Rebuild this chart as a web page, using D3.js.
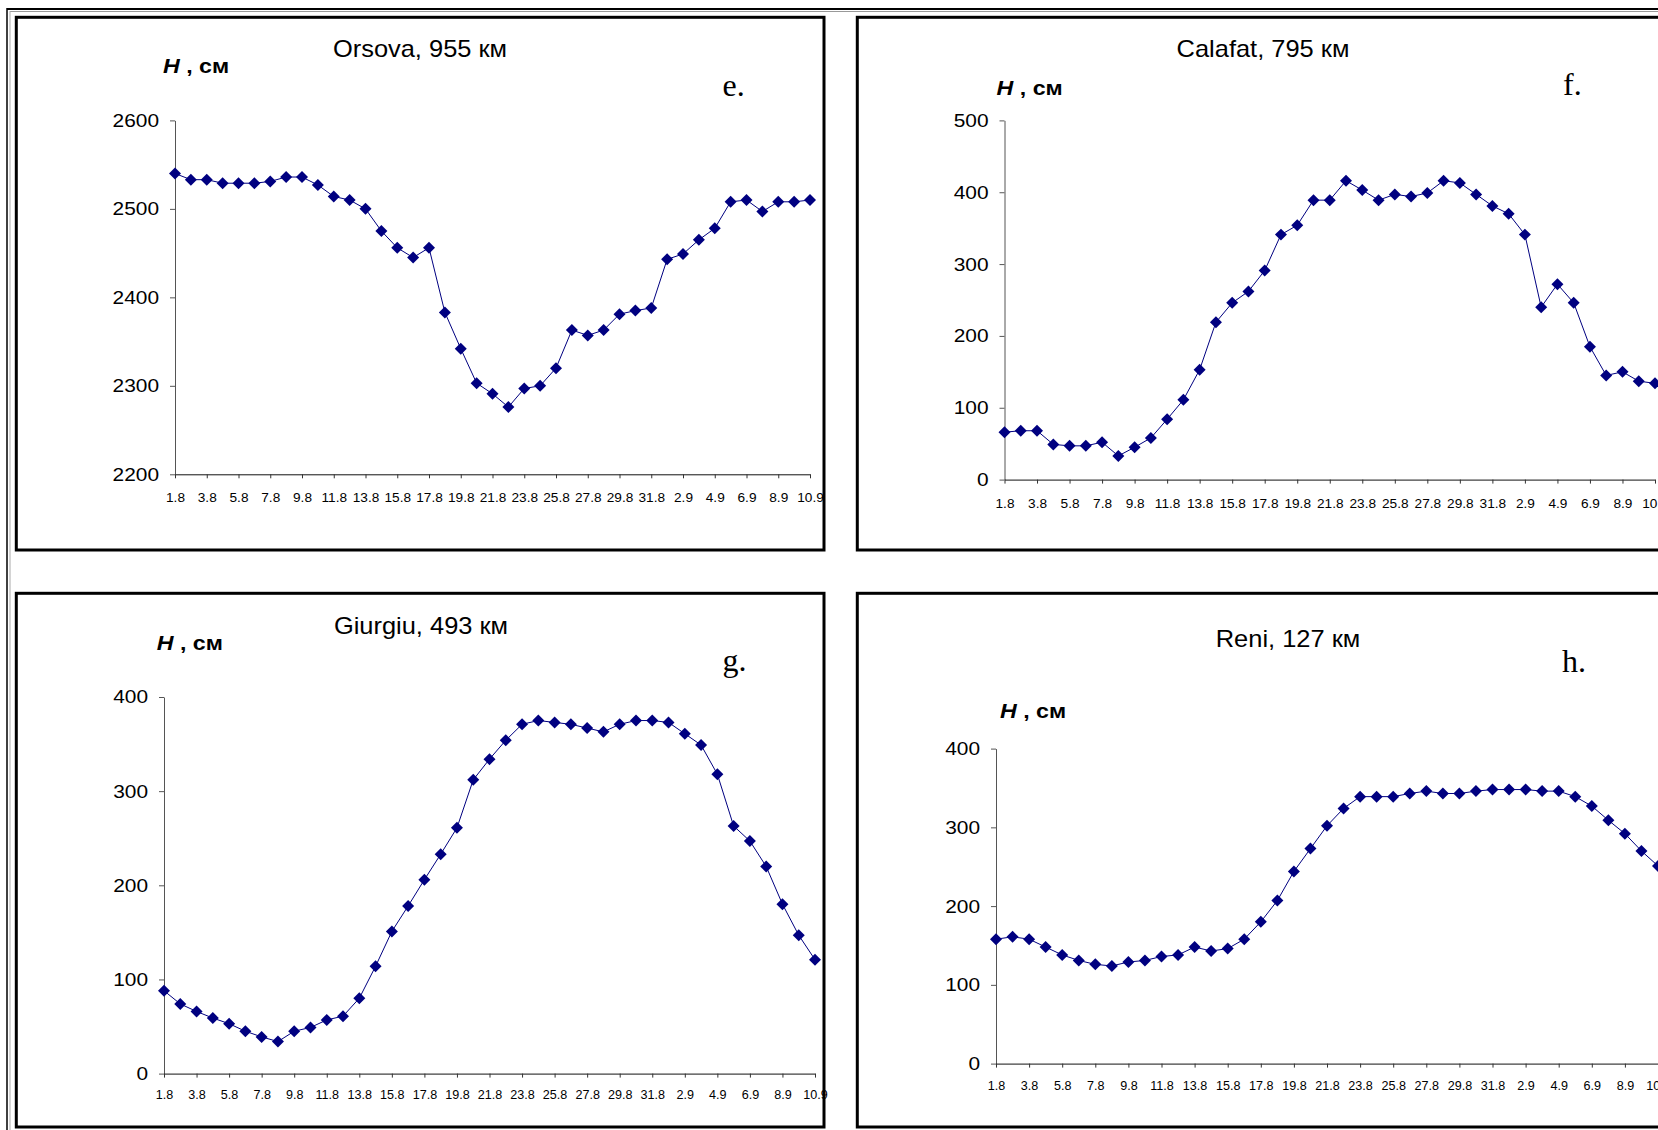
<!DOCTYPE html>
<html>
<head>
<meta charset="utf-8">
<script src="https://d3js.org/d3.v7.min.js"></script>
<style>
body { margin: 0; background: #fff; }
svg { display: block; background: #fff; }
text { font-family: "Liberation Sans", Arial, sans-serif; fill: #000; }
</style>
</head>
<body>
<svg width="1658" height="1130"></svg>
<script>
var dates = ['1.8', '2.8', '3.8', '4.8', '5.8', '6.8', '7.8', '8.8', '9.8', '10.8',
    '11.8', '12.8', '13.8', '14.8', '15.8', '16.8', '17.8', '18.8', '19.8', '20.8',
    '21.8', '22.8', '23.8', '24.8', '25.8', '26.8', '27.8', '28.8', '29.8', '30.8',
    '31.8', '1.9', '2.9', '3.9', '4.9', '5.9', '6.9', '7.9', '8.9', '9.9', '10.9'];

var orsova = [2540, 2533, 2533, 2529, 2529, 2529, 2531, 2536, 2536, 2527,
    2514, 2510, 2500, 2475, 2456, 2445, 2456, 2383, 2342, 2303,
    2291, 2276, 2297, 2300, 2320, 2363, 2357, 2363, 2381, 2385,
    2388, 2443, 2449, 2465, 2478, 2508, 2510, 2497, 2508, 2508, 2510];
var calafat = [66, 68, 68, 49, 47, 47, 52, 33, 45, 58,
    84, 111, 153, 219, 246, 262, 291, 341, 354, 389,
    389, 416, 403, 389, 397, 394, 399, 416, 413, 397,
    381, 370, 341, 240, 272, 246, 185, 145, 150, 137, 134];
var giurgiu = [88, 74, 66, 59, 53, 45, 39, 34, 45, 49,
    57, 61, 80, 114, 151, 178, 206, 233, 261, 312,
    334, 354, 371, 375, 373, 371, 367, 363, 371, 375,
    375, 373, 361, 349, 318, 263, 247, 220, 180, 147, 121];
var reni = [158, 161, 158, 148, 138, 131, 126, 124, 129, 131,
    136, 138, 148, 143, 146, 158, 180, 207, 244, 273,
    302, 324, 339, 339, 339, 343, 346, 343, 343, 346,
    348, 348, 348, 346, 346, 339, 327, 309, 292, 270, 251];

var orsovaTicks = [2200, 2300, 2400, 2500, 2600],
    calafatTicks = [0, 100, 200, 300, 400, 500],
    giurgiuTicks = [0, 100, 200, 300, 400],
    reniTicks = [0, 100, 200, 300, 400];

var titles = ['Orsova, 955 км', 'Calafat, 795 км', 'Giurgiu, 493 км', 'Reni, 127 км'],
    letters = ['e.', 'f.', 'g.', 'h.'];

var svg = d3.select('svg'),
    blue = '#000080',
    titleStretch = 1.06,
    unitStretch = 1.16,
    tickStretch = 1.13;

// layout of the four boxes, in page pixels
var panels = [
    { values: orsova, ticks: orsovaTicks, box: [16.3, 17.3, 807.7, 532.7],
      xr: [175, 810], yr: [474.3, 120.4], title: [420, 57], unit: [163, 73],
      letter: [722.6, 96], xFont: 13, xGap: 23 },
    { values: calafat, ticks: calafatTicks, box: [857.3, 17.3, 807.7, 532.7],
      xr: [1004.5, 1655], yr: [479.6, 120.4], title: [1263, 57], unit: [996.6, 94.6],
      letter: [1563, 95], xFont: 13, xGap: 23.4 },
    { values: giurgiu, ticks: giurgiuTicks, box: [16.3, 593.3, 807.7, 533.7],
      xr: [164, 815], yr: [1073.6, 697], title: [421, 634], unit: [156.7, 650],
      letter: [722.6, 671], xFont: 12, xGap: 21.5 },
    { values: reni, ticks: reniTicks, box: [857.3, 593.3, 807.7, 533.7],
      xr: [996, 1658], yr: [1063.6, 748.6], title: [1288, 647], unit: [1000, 718],
      letter: [1562, 672], xFont: 12, xGap: 21.8 }
];

frame();
for (var i = 0; i < panels.length; i++) {
    drawPanel(panels[i], titles[i], letters[i]);
}

function frame() {
    svg.append('line').attr('x1', 7).attr('x2', 1658).attr('y1', 9).attr('y2', 9)
        .attr('stroke', '#000').attr('stroke-width', 2);
    svg.append('line').attr('x1', 10).attr('x2', 1658).attr('y1', 11.5).attr('y2', 11.5)
        .attr('stroke', '#999').attr('stroke-width', 1);
    svg.append('line').attr('x1', 7).attr('x2', 7).attr('y1', 8).attr('y2', 1130)
        .attr('stroke', '#000').attr('stroke-width', 1.5);
    svg.append('line').attr('x1', 10).attr('x2', 10).attr('y1', 11).attr('y2', 1130)
        .attr('stroke', '#aaa').attr('stroke-width', 1);
}

function stretched(g, x, y, k) {
    return g.append('text').attr('transform', 'translate(' + x + ',' + y + ') scale(' + k + ',1)');
}

function drawPanel(p, title, letter) {
    var g = svg.append('g');

    g.append('rect')
        .attr('x', p.box[0]).attr('y', p.box[1])
        .attr('width', p.box[2]).attr('height', p.box[3])
        .attr('fill', '#fff').attr('stroke', '#000').attr('stroke-width', 3);

    var x = d3.scalePoint().domain(dates).range(p.xr),
        y = d3.scaleLinear().domain([p.ticks[0], p.ticks[p.ticks.length - 1]]).range(p.yr);

    // y axis
    var ya = g.append('g').attr('transform', 'translate(' + p.xr[0] + ',0)')
        .call(d3.axisLeft(y).tickValues(p.ticks).tickFormat(d3.format('d'))
            .tickSize(5).tickSizeOuter(0).tickPadding(11));
    ya.attr('font-size', 18.5);
    ya.select('.domain').attr('stroke', '#555');
    ya.selectAll('.tick line').attr('stroke', '#555');
    ya.selectAll('.tick text')
        .attr('x', -16 / tickStretch)
        .attr('transform', 'scale(' + tickStretch + ',1)');

    // x axis, a label on every second day
    var pad = p.xGap - 4 - 0.36 * p.xFont;
    var xa = g.append('g').attr('transform', 'translate(0,' + p.yr[0] + ')')
        .call(d3.axisBottom(x)
            .tickValues(dates.filter(function (d, j) { return j % 2 === 0; }))
            .tickSize(4).tickSizeOuter(0).tickPadding(pad));
    xa.attr('font-size', p.xFont);
    xa.select('.domain').attr('stroke', '#111');
    xa.selectAll('.tick line').attr('stroke', '#333');
    xa.selectAll('.tick text').attr('transform', 'scale(1.05,1)');

    // series
    var line = d3.line()
        .x(function (d, j) { return x(dates[j]); })
        .y(function (d) { return y(d); });
    g.append('path').datum(p.values)
        .attr('d', line)
        .attr('fill', 'none')
        .attr('stroke', blue)
        .attr('stroke-width', 1);

    var diamond = d3.symbol().type(d3.symbolSquare).size(72);
    g.selectAll('.mark').data(p.values).enter().append('path')
        .attr('class', 'mark')
        .attr('d', diamond)
        .attr('transform', function (d, j) {
            return 'translate(' + x(dates[j]) + ',' + y(d) + ') rotate(45)';
        })
        .attr('fill', blue);

    // texts
    stretched(g, p.title[0], p.title[1], titleStretch)
        .attr('text-anchor', 'middle')
        .attr('font-size', 24)
        .text(title);

    var u = stretched(g, p.unit[0], p.unit[1], unitStretch)
        .attr('font-size', 20)
        .attr('font-weight', 'bold');
    u.append('tspan').attr('font-style', 'italic').text('H');
    u.append('tspan').text(' , см');

    g.append('text')
        .attr('x', p.letter[0]).attr('y', p.letter[1])
        .style('font-family', '"Liberation Serif", "Times New Roman", serif')
        .attr('font-size', 32)
        .text(letter);
}
</script>
</body>
</html>
